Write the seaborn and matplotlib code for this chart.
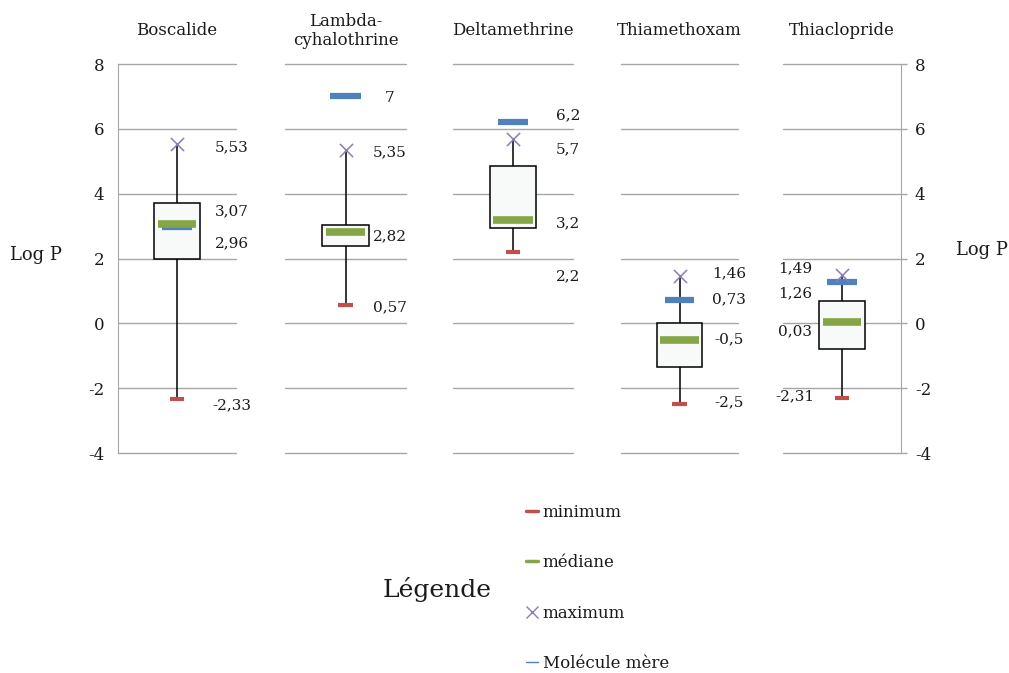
import numpy as np
import pandas as pd
import seaborn as sns
import matplotlib.pyplot as plt
from matplotlib.lines import Line2D

# valeurs (Log P)
molecules = ['Boscalide', 'Lambda-\ncyhalothrine', 'Deltamethrine', 'Thiamethoxam', 'Thiaclopride']
minimum = [-2.33, 0.57, 2.2, -2.5, -2.31]
q1 = [2.0, 2.4, 2.93, -1.35, -0.8]
mediane = [3.07, 2.82, 3.2, -0.5, 0.03]
q3 = [3.7, 3.02, 4.85, 0.0, 0.7]
maximum = [5.53, 5.35, 5.7, 1.46, 1.49]
mere = [2.96, 7, 6.2, 0.73, 1.26]

# décalage des étiquettes (x en unités de l'axe, y en Log P)
lab_dx = [0.93, 0.73, 0.92, 0.85, -0.8]
lab_dy = {
    'max': [-0.1, -0.07, -0.33, 0.08, 0.2],
    'med': [0.39, -0.13, -0.11, 0.01, -0.28],
    'mere': [-0.49, -0.06, 0.22, 0.01, -0.33],
    'min': [-0.2, -0.08, -0.75, 0.06, 0.06],
}

# tableau long : 5 valeurs par molécule -> quartiles exacts
rows = []
for i, m in enumerate(molecules):
    for v in (minimum[i], q1[i], mediane[i], q3[i], maximum[i]):
        rows.append({'mol': m, 'val': v})
df = pd.DataFrame(rows)

sns.set_style('white')
plt.rcParams['font.family'] = ['DejaVu Serif']
plt.rcParams['axes.unicode_minus'] = False

RED = '#C0504D'
GREEN = '#85A646'
PURPLE = '#8C7BB5'
BLUE = '#4F81BD'
GRID = '#A6A6A6'
TXT = '#1a1a1a'


def fmt(v):
    return str(v).replace('.', ',')


fig = plt.figure(figsize=(10.09, 6.73), dpi=100)
W, H = 1009, 673
left_px = [118, 285, 453, 621, 783]
width_px = [118, 121, 120, 117, 118]
bottom = 1 - 453 / H
height = (453 - 64) / H

for i, m in enumerate(molecules):
    ax = fig.add_axes([left_px[i] / W, bottom, width_px[i] / W, height])
    sub = df[df['mol'] == m]
    sns.boxplot(data=sub, x='mol', y='val', ax=ax, whis=(0, 100), width=0.78,
                color='#F7FAF8', saturation=1, linecolor='black', linewidth=1.1,
                showcaps=False, medianprops={'visible': False}, showfliers=False)
    ax.set_xlim(-1, 1)
    ax.set_ylim(-4, 8)
    ax.set_yticks(np.arange(-4, 9, 2))
    ax.yaxis.grid(True, color=GRID, lw=1)
    for gl in ax.get_ygridlines():
        gl.set_clip_on(False)
    ax.set_axisbelow(True)
    ax.set_xlabel('')
    ax.set_ylabel('')
    ax.set_xticks([])
    for s in ax.spines.values():
        s.set_visible(False)

    # marqueurs
    ax.hlines(mere[i], -0.25, 0.25, color=BLUE, lw=4.5, zorder=4)
    ax.hlines(mediane[i], -0.33, 0.33, color=GREEN, lw=5.5, zorder=4)
    ax.hlines(minimum[i], -0.12, 0.12, color=RED, lw=3, zorder=4)
    sns.scatterplot(x=[0], y=[maximum[i]], ax=ax, marker='x', s=90, color=PURPLE,
                    linewidth=1.1, zorder=5, legend=False)

    # étiquettes de valeurs
    x_lab = lab_dx[i]
    for key, vals in (('max', maximum), ('med', mediane), ('mere', mere), ('min', minimum)):
        ax.text(x_lab, vals[i] + lab_dy[key][i], fmt(vals[i]), ha='center', va='center',
                fontsize=11, color=TXT, clip_on=False)

    ax.text(0, 1.085, m, transform=ax.get_xaxis_transform(), ha='center', va='center',
            fontsize=12, color=TXT, linespacing=1.1)

    if i == 0:
        ax.spines['left'].set_visible(True)
        ax.spines['left'].set_color(GRID)
        ax.tick_params(axis='y', length=6, color=GRID, width=1, labelsize=12,
                       labelcolor=TXT, pad=4)
    elif i == len(molecules) - 1:
        ax.spines['right'].set_visible(True)
        ax.spines['right'].set_color(GRID)
        ax.yaxis.tick_right()
        ax.tick_params(axis='y', length=4, color=GRID, width=1, labelsize=12,
                       labelcolor=TXT, pad=6)
    else:
        ax.tick_params(axis='y', length=0, labelleft=False)

fig.text(36 / W, 1 - 255 / H, 'Log P', ha='center', va='center', fontsize=13, color=TXT)
fig.text(982 / W, 1 - 250 / H, 'Log P', ha='center', va='center', fontsize=13, color=TXT)

# légende
fig.text(437 / W, 1 - 590 / H, 'Légende', ha='center', va='center', fontsize=18, color=TXT)
handles = [
    Line2D([], [], color=RED, lw=2.5),
    Line2D([], [], color=GREEN, lw=2.5),
    Line2D([], [], color=PURPLE, marker='x', ls='none', markersize=8, mew=1),
    Line2D([], [], color=BLUE, lw=1),
]
labels = ['minimum', 'médiane', 'maximum', 'Molécule mère']
fig.legend(handles, labels, loc='upper left', bbox_to_anchor=(511 / W, 1 - 489 / H),
           frameon=False, handlelength=0.75, handletextpad=0.25, labelspacing=2.0,
           fontsize=12, labelcolor=TXT)

fig.savefig('out.png', dpi=100)
